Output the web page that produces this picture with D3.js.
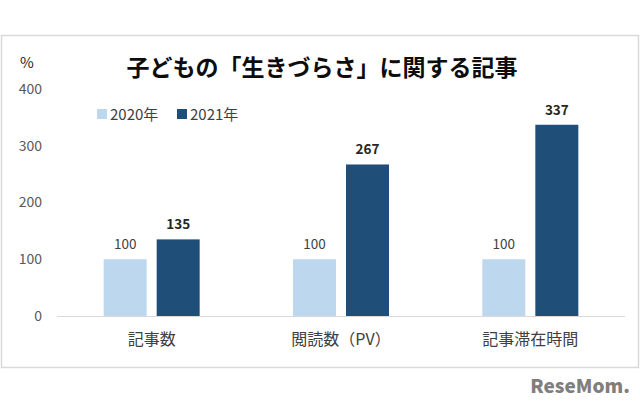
<!DOCTYPE html>
<html>
<head>
<meta charset="UTF-8">
<script src="https://d3js.org/d3.v7.min.js"></script>
<style>
  body { margin: 0; background: #fff; }
  text { font-family: "Noto Sans CJK JP", "Noto Sans", sans-serif; }
</style>
</head>
<body>
<svg class="chart"></svg>
<script>
var categories = ["記事数", "閲読数（PV）", "記事滞在時間"];
var series = ["2020年", "2021年"];
var values2020 = [100, 100, 100];
var values2021 = [135, 267, 337];
var yTicks = [0, 100, 200, 300, 400];

var width = 640, height = 404;
var colors = ["#bdd7ee", "#1f4e79"];

var svg = d3.select(".chart").attr("width", width).attr("height", height);

// frame
svg.append("rect")
  .attr("x", 1.5).attr("y", 35.5)
  .attr("width", 637).attr("height", 332)
  .attr("fill", "#fff").attr("stroke", "#d9d9d9").attr("stroke-width", 1.5);

var x = d3.scaleBand().domain(categories).range([57, 625]);
var y = d3.scaleLinear().domain([0, 400]).range([316, 89]);

// y tick labels
svg.append("g").selectAll("text")
  .data(yTicks).enter().append("text")
  .attr("x", 42).attr("y", function(d) { return y(d); })
  .attr("dy", "0.35em")
  .attr("text-anchor", "end")
  .attr("font-size", 14).attr("fill", "#595959")
  .text(function(d) { return d; });

svg.append("text")
  .attr("x", 20).attr("y", 68)
  .attr("font-size", 15).attr("fill", "#262626")
  .text("%");

// baseline
svg.append("line")
  .attr("x1", 57).attr("x2", 625)
  .attr("y1", y(0) + 0.5).attr("y2", y(0) + 0.5)
  .attr("stroke", "#d9d9d9").attr("stroke-width", 1);

var barW = 43, gap = 10;
var data = [values2020, values2021];

data.forEach(function(vals, si) {
  var g = svg.append("g");
  g.selectAll("rect").data(vals).enter().append("rect")
    .attr("x", function(d, i) { return x(categories[i]) + x.bandwidth() / 2 - barW - gap / 2 + si * (barW + gap); })
    .attr("y", function(d) { return y(d); })
    .attr("width", barW)
    .attr("height", function(d) { return y(0) - y(d); })
    .attr("fill", colors[si]);
  g.selectAll("text").data(vals).enter().append("text")
    .attr("x", function(d, i) { return x(categories[i]) + x.bandwidth() / 2 - barW / 2 - gap / 2 + si * (barW + gap); })
    .attr("y", function(d) { return y(d) - 10; })
    .attr("text-anchor", "middle")
    .attr("font-size", 13.5)
    .attr("font-weight", si === 1 ? "bold" : "normal")
    .attr("fill", si === 1 ? "#262626" : "#404040")
    .text(function(d) { return d; });
});

// category labels
svg.append("g").selectAll("text")
  .data(categories).enter().append("text")
  .attr("x", function(d) { return x(d) + x.bandwidth() / 2; })
  .attr("y", 345)
  .attr("text-anchor", "middle")
  .attr("font-size", 16).attr("fill", "#404040")
  .text(function(d) { return d; });

// title
svg.append("text")
  .attr("x", 322).attr("y", 76)
  .attr("text-anchor", "middle")
  .attr("font-size", 23).attr("font-weight", "bold").attr("fill", "#0d0d0d")
  .text("子どもの「生きづらさ」に関する記事");

// legend
var legendX = [97, 177];
series.forEach(function(s, i) {
  svg.append("rect")
    .attr("x", legendX[i]).attr("y", 109)
    .attr("width", 10).attr("height", 10)
    .attr("fill", colors[i]);
  svg.append("text")
    .attr("x", legendX[i] + 13).attr("y", 120)
    .attr("font-size", 15).attr("fill", "#404040")
    .text(s);
});

// watermark
svg.append("text")
  .attr("x", 630).attr("y", 393)
  .attr("text-anchor", "end")
  .attr("font-family", "Roboto, sans-serif")
  .attr("font-size", 19).attr("font-weight", "900").attr("fill", "#7f7f7f")
  .text("ReseMom.");
</script>
</body>
</html>
